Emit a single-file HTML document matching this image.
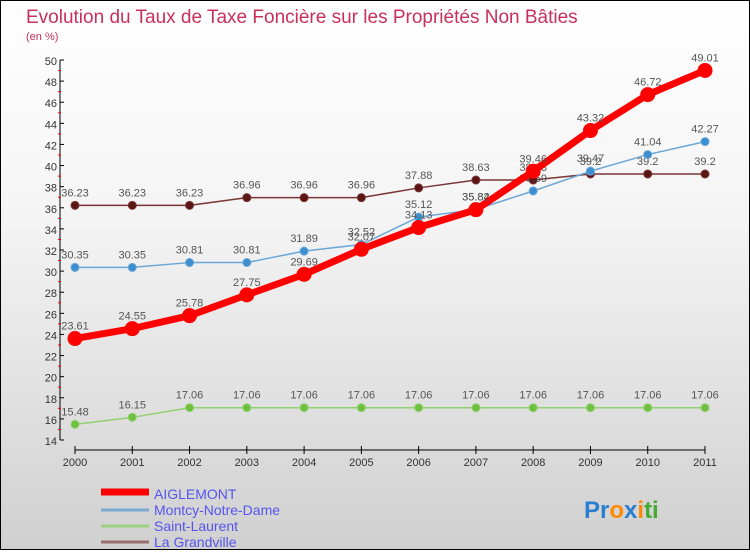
<!DOCTYPE html>
<html><head><meta charset="utf-8"><style>
html,body{margin:0;padding:0}
body{width:750px;height:550px;overflow:hidden;font-family:"Liberation Sans",sans-serif}
#wrap{position:relative;width:748px;height:548px;border:1px solid #000;background:linear-gradient(#ffffff 0%,#f4f4f4 40%,#d0d0d0 100%)}
</style></head><body>
<div id="wrap">
<svg id="chart" width="748" height="548" font-family="Liberation Sans, sans-serif">
<text x="25" y="22" font-size="19" fill="#c8305a">Evolution du Taux de Taxe Foncière sur les Propriétés Non Bâties</text>
<text x="25" y="39" font-size="11" fill="#c8305a">(en %)</text>
<g id="axes"></g><g id="series"></g><g id="legend"></g>
<text x="583" y="517" font-size="24" font-weight="bold"><tspan fill="#2a7fd0">Pr</tspan><tspan fill="#ff8a00">o</tspan><tspan fill="#2a7fd0">x</tspan><tspan fill="#ff8a00">i</tspan><tspan fill="#44aa33">ti</tspan></text>
</svg>
</div>
<script>
const years=[2000,2001,2002,2003,2004,2005,2006,2007,2008,2009,2010,2011];
const yTicks=[14,16,18,20,22,24,26,28,30,32,34,36,38,40,42,44,46,48,50];
const aiglemont=[23.61,24.55,25.78,27.75,29.69,32.07,34.13,35.82,39.46,43.32,46.72,49.01];
const montcy=[30.35,30.35,30.81,30.81,31.89,32.52,35.12,35.84,37.59,39.47,41.04,42.27];
const saintLaurent=[15.48,16.15,17.06,17.06,17.06,17.06,17.06,17.06,17.06,17.06,17.06,17.06];
const grandville=[36.23,36.23,36.23,36.96,36.96,36.96,37.88,38.63,38.63,39.2,39.2,39.2];
const seriesNames=["AIGLEMONT","Montcy-Notre-Dame","Saint-Laurent","La Grandville"];
const NS="http://www.w3.org/2000/svg";
function X(i){return 74+i*(630/11);}
function Y(v){return 59+(50-v)*(380/36);}
function mk(tag,attrs,parent){const e=document.createElementNS(NS,tag);for(const k in attrs)e.setAttribute(k,attrs[k]);parent.appendChild(e);return e;}
const axes=document.getElementById('axes');
let e=mk('line',{x1:59,y1:Y(50),x2:59,y2:Y(14),stroke:'#000'},axes);


yTicks.forEach(v=>{
 mk('line',{x1:59,y1:Y(v),x2:63,y2:Y(v),stroke:'#000'},axes);
 if(v<50) mk('line',{x1:57,y1:Y(v+1),x2:60,y2:Y(v+1),stroke:'#e00'},axes);
 const t=mk('text',{x:56,y:Y(v)+5,'font-size':11,'text-anchor':'end',fill:'#333'},axes);
 t.textContent=v;
 
 
});
e=mk('line',{x1:X(0),y1:449,x2:X(11),y2:449,stroke:'#000'},axes);


years.forEach((y,i)=>{
 mk('line',{x1:X(i),y1:445,x2:X(i),y2:453,stroke:'#000'},axes);
 const t=mk('text',{x:X(i),y:465,'font-size':11,'text-anchor':'middle',fill:'#333'},axes);
 t.textContent=y;
 
 
});
const sg=document.getElementById('series');
function drawSeries(vals,color,dot,w,r,name){
 const g=mk('g',{},sg);
 
 
 const pl=mk('polyline',{points:vals.map((v,i)=>X(i)+','+Y(v)).join(' '),fill:'none',stroke:color,'stroke-width':w,'stroke-linejoin':'round'},g);
 
 
 vals.forEach((v,i)=>{
  const c=mk('circle',{cx:X(i),cy:Y(v),r:r,fill:dot,stroke:color,'stroke-width':1},g);
  
  
  const t=mk('text',{x:X(i),y:Y(v)-9,'font-size':11,'text-anchor':'middle',fill:'#555'},g);
  t.textContent=v;
  
  
 });
}
drawSeries(grandville,'#7a3535','#5a1515',1.5,4,'la-grandville');
drawSeries(saintLaurent,'#90d070','#70c040',1.5,4,'saint-laurent');
drawSeries(montcy,'#6aa6d6','#3b8fd0',1.5,4,'montcy-notre-dame');
drawSeries(aiglemont,'#ff0000','#ff0000',7,7,'aiglemont');
const lg=document.getElementById('legend');
const lcolors=['#ff0000','#7aaad0','#9ad080','#9a7070'];
const lw=[7,3,3,3];
seriesNames.forEach((n,i)=>{
 const yy=497+i*16;
 const l=mk('line',{x1:100,y1:yy-6+(i?2:0),x2:148,y2:yy-6+(i?2:0),stroke:lcolors[i],'stroke-width':lw[i]},lg);
 
 
 const t=mk('text',{x:153,y:yy+1,'font-size':14,fill:'#5555ee'},lg);
 t.textContent=n;
 
 
});
</script>
</body></html>
